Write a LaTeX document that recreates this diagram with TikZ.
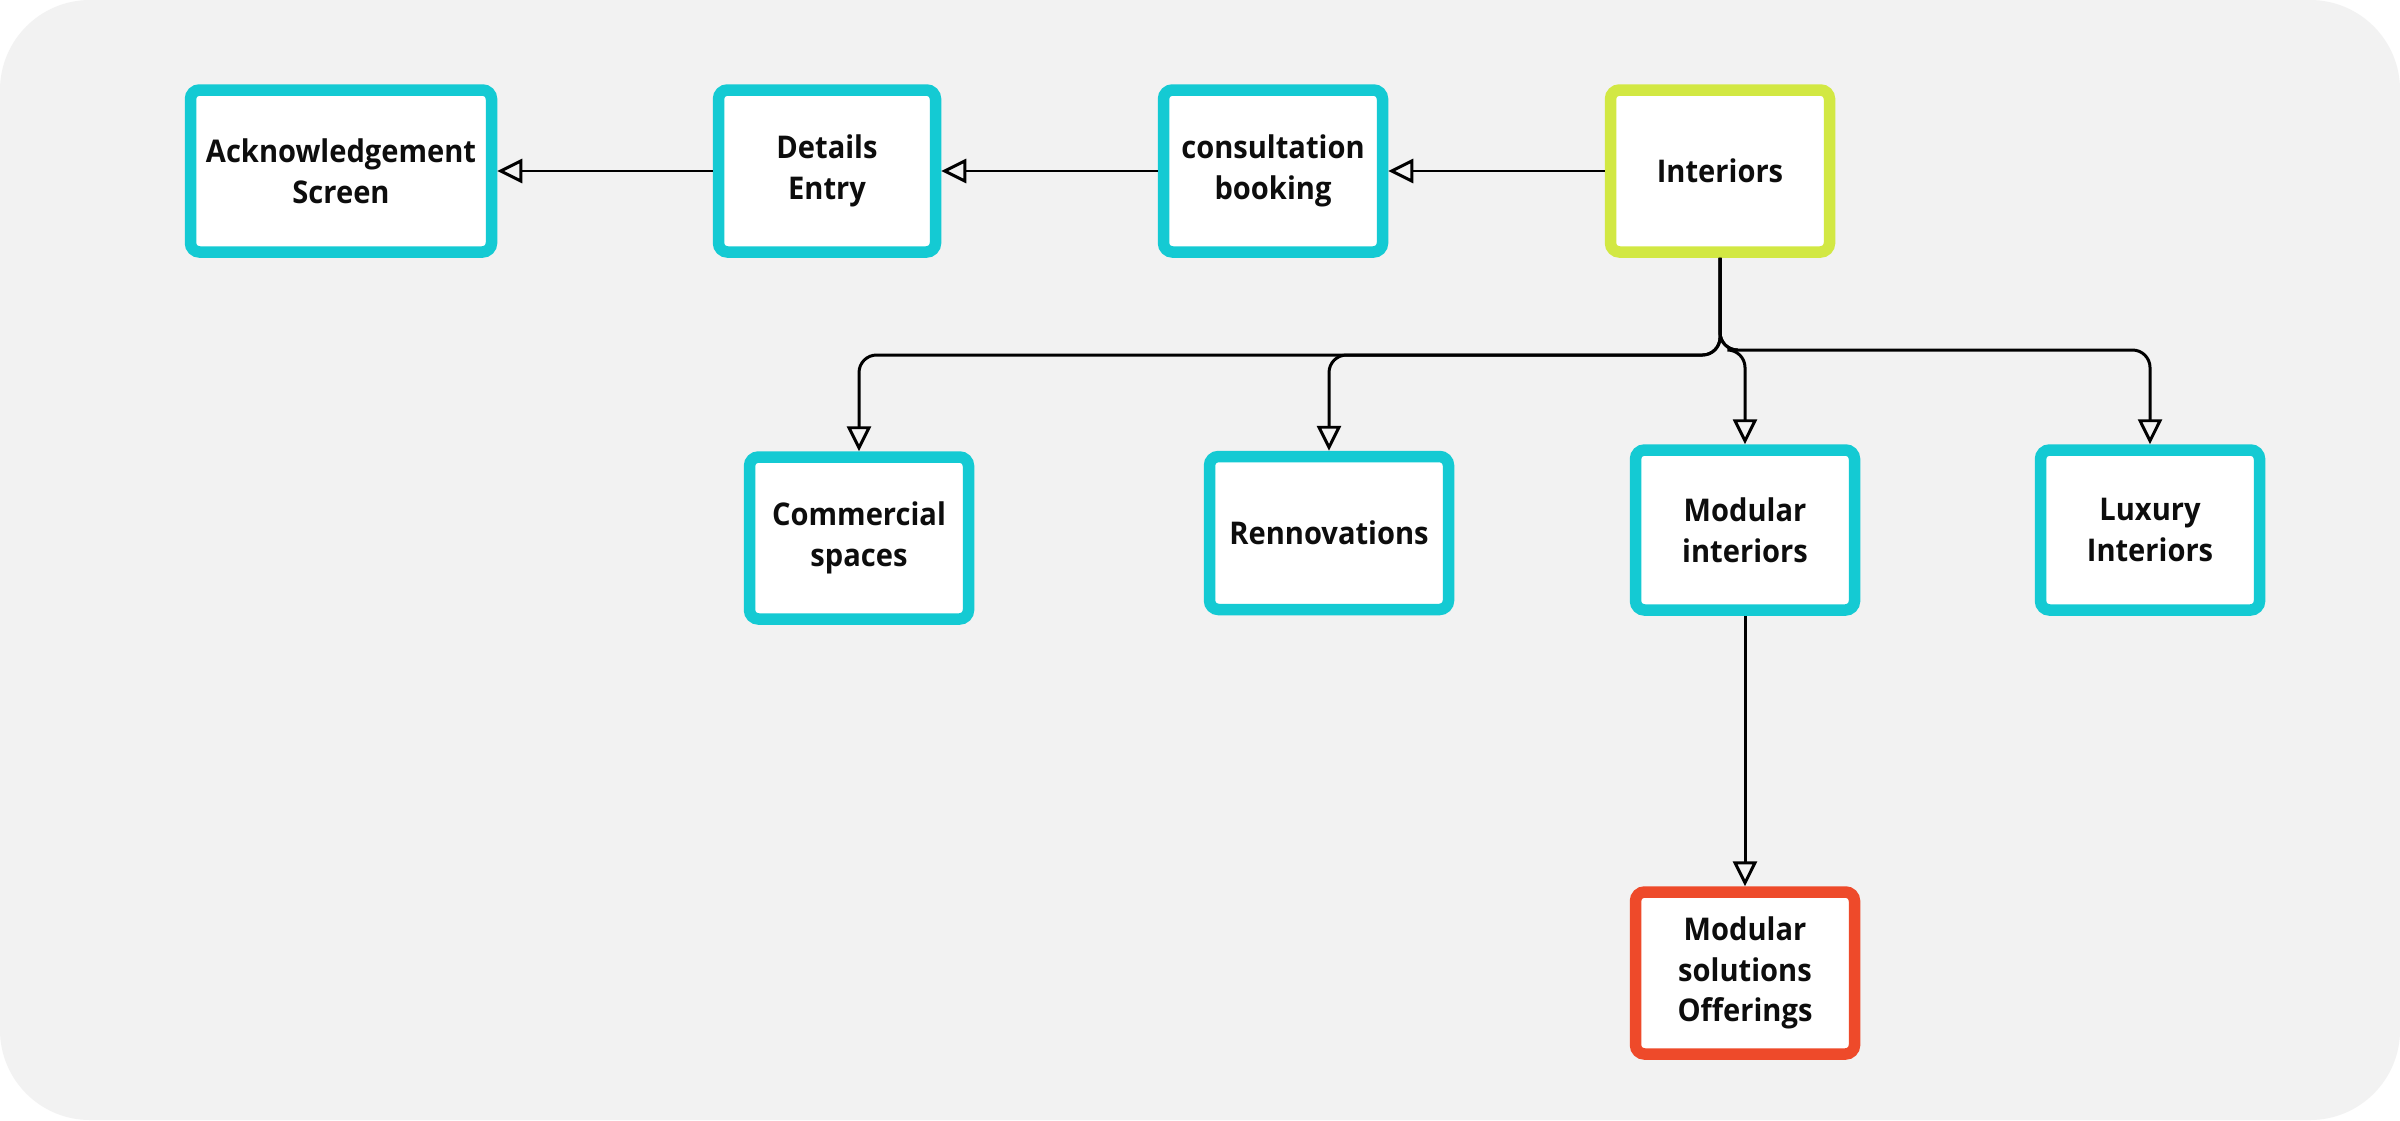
\documentclass[tikz,border=0pt]{standalone}
\usepackage{fontspec}
\setmainfont[FakeStretch=0.93]{Open Sans}
\usepackage{tikz}
\usetikzlibrary{arrows.meta, positioning}

\definecolor{tealbox}{HTML}{14CAD3}
\definecolor{limebox}{HTML}{D2E843}
\definecolor{redbox}{HTML}{EE4A2A}
\definecolor{canvas}{HTML}{F2F2F2}

\begin{document}
\begin{tikzpicture}[
  font=\bfseries\fontsize{8.9}{11.6}\selectfont,
  panel/.style={
    draw=tealbox,
    fill=white,
    line width=0.115cm,
    rounded corners=0.09cm,
    align=center,
    text=black!95,
    minimum width=2.19cm,
    minimum height=1.62cm,
    inner sep=0pt
  },
  link/.style={
    -{Triangle[open, length=0.25cm, width=0.24cm]},
    line width=0.85pt,
    draw=black
  }
]
% Fond
\useasboundingbox (0,0) rectangle (24,-11.2);
\fill[white] (0,0) rectangle (24,-11.2);
\fill[canvas, rounded corners=0.9cm] (0,0) rectangle (24,-11.2);

% Ligne du haut
\node[panel, minimum width=3.01cm] (ack) at (3.41,-1.71) {Acknowledgement\\Screen};
\node[panel, minimum width=2.17cm] (det) at (8.27,-1.71) {Details\\Entry};
\node[panel] (cons) at (12.73,-1.71) {consultation\\booking};
\node[panel, draw=limebox] (int) at (17.20,-1.71) {Interiors};

% Ligne du milieu
\node[panel] (com) at (8.59,-5.38) {Commercial\\spaces};
\node[panel, minimum width=2.39cm, minimum height=1.53cm] (ren) at (13.29,-5.33) {Rennovations};
\node[panel, minimum height=1.60cm] (mod) at (17.45,-5.30) {Modular\\interiors};
\node[panel, minimum height=1.60cm] (lux) at (21.50,-5.30) {Luxury\\Interiors};

% Bas
\node[panel, draw=redbox] (off) at (17.45,-9.73) {Modular\\solutions\\Offerings};

% Liaisons horizontales
\draw[link] (int.west) -- (cons.east);
\draw[link] (cons.west) -- (det.east);
\draw[link] (det.west) -- (ack.east);

% Fourche sous Interiors
\coordinate (forkL) at (17.20,-3.55);
\coordinate (forkR) at (17.20,-3.50);
\draw[link, rounded corners=5pt] (int.south) -- (forkL) -| (com.north);
\draw[link, rounded corners=5pt] (int.south) -- (forkL) -| (ren.north);
\draw[link, rounded corners=5pt] (int.south) -- (forkR) -| (mod.north);
\draw[link, rounded corners=5pt] (int.south) -- (forkR) -| (lux.north);

\draw[link] (mod.south) -- (off.north);

\end{tikzpicture}
\end{document}
